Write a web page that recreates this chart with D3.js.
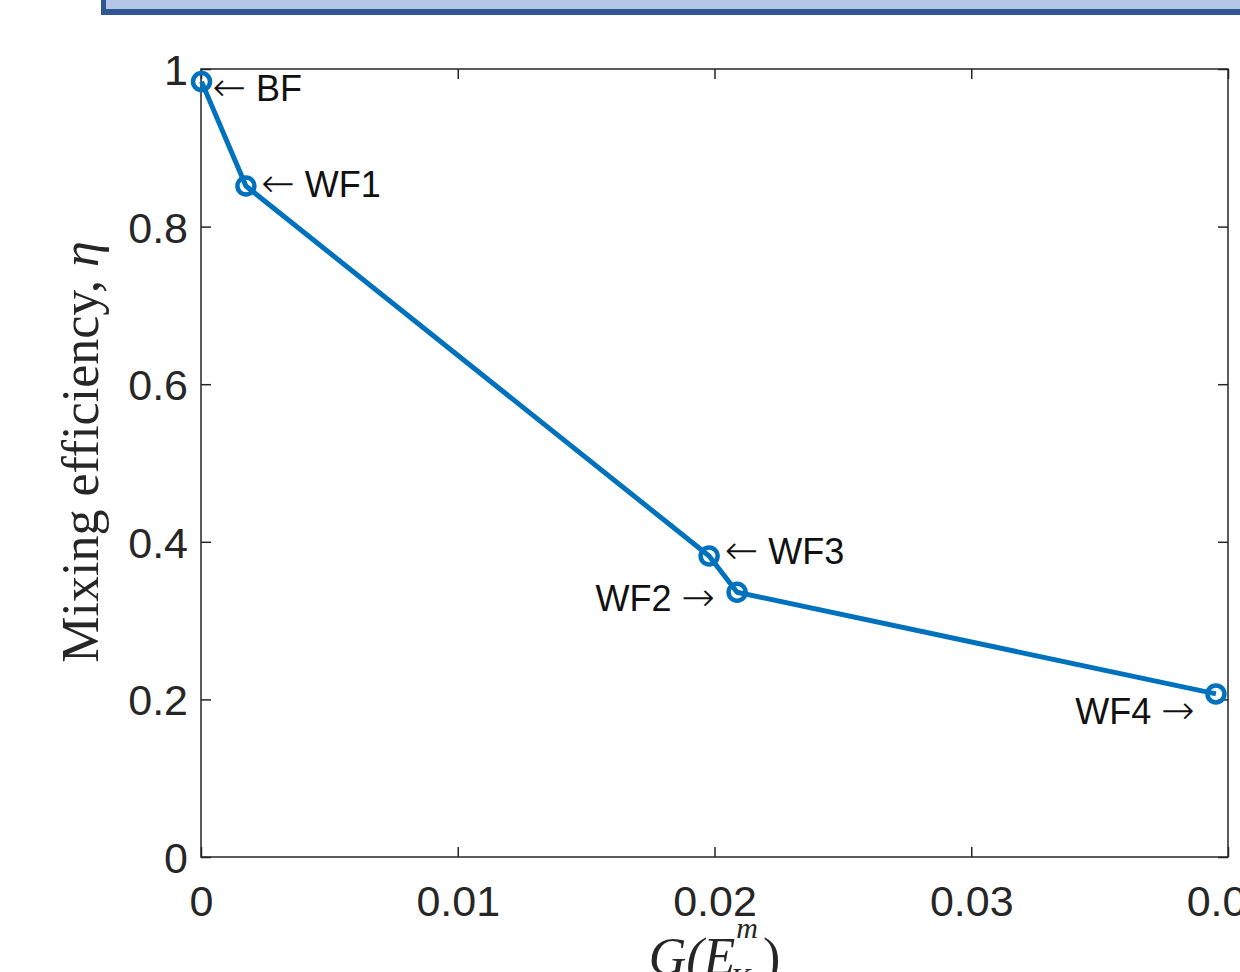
<!DOCTYPE html>
<html>
<head>
<meta charset="utf-8">
<script src="https://cdn.jsdelivr.net/npm/d3@7"></script>
<style>
  body { margin: 0; background: #fff; }
  svg { display: block; }
</style>
</head>
<body>
<svg id="chart"></svg>
<script>
// flow cases, sorted by G(E_K^m)
var cases = ['BF', 'WF1', 'WF3', 'WF2', 'WF4'];
var gValues = [0.00002, 0.00175, 0.01979, 0.02088, 0.03953];
var etaValues = [0.984, 0.8515, 0.382, 0.336, 0.207];

// annotation names, their data coordinates and which side the arrow sits
var labelNames = ['BF', 'WF1', 'WF3', 'WF2', 'WF4'];
var labelG = [0.00045, 0.00235, 0.0204, 0.02002, 0.03871];
var labelEta = [0.976, 0.854, 0.388, 0.329, 0.185];
var labelArrow = ['left', 'left', 'left', 'right', 'right'];

var xTicks = [0, 0.01, 0.02, 0.03, 0.04];
var xTickLabels = ['0', '0.01', '0.02', '0.03', '0.04'];
var yTicks = [0, 0.2, 0.4, 0.6, 0.8, 1];
var yTickLabels = ['0', '0.2', '0.4', '0.6', '0.8', '1'];

var W = 1240, H = 972;
var pLeft = 201, pRight = 1228, pTop = 69, pBottom = 857;
var blue = '#0072BD', axisColor = '#262626';

var svg = d3.select('#chart').attr('width', W).attr('height', H);

// banner strip at the top
svg.append('rect').attr('x', 101).attr('y', 0).attr('width', W - 101).attr('height', 15).attr('fill', '#2f5597');
svg.append('rect').attr('x', 106).attr('y', 0).attr('width', W - 106).attr('height', 9).attr('fill', '#b4c7e7');

var x = d3.scaleLinear().domain([0, 0.04]).range([pLeft, pRight]);
var y = d3.scaleLinear().domain([0, 1]).range([pBottom, pTop]);

// axes: ticks inward on all four sides, like matlab box on
var tickFont = '"Liberation Sans", Arial, Helvetica, sans-serif';
var xb = svg.append('g').attr('transform', 'translate(0,' + pBottom + ')')
    .call(d3.axisBottom(x).tickValues(xTicks).tickSize(-10).tickPadding(28).tickFormat(function(d, i) { return xTickLabels[i]; }));
var xt = svg.append('g').attr('transform', 'translate(0,' + pTop + ')')
    .call(d3.axisTop(x).tickValues(xTicks).tickSize(-10).tickFormat(''));
var yl = svg.append('g').attr('transform', 'translate(' + pLeft + ',0)')
    .call(d3.axisLeft(y).tickValues(yTicks).tickSize(-10).tickPadding(13).tickFormat(function(d, i) { return yTickLabels[i]; }));
var yr = svg.append('g').attr('transform', 'translate(' + pRight + ',0)')
    .call(d3.axisRight(y).tickValues(yTicks).tickSize(-10).tickFormat(''));
[xb, xt, yl, yr].forEach(function(g) {
    g.selectAll('line').attr('stroke', axisColor).attr('stroke-width', 1.5);
    g.select('path.domain').remove();
    g.selectAll('text').attr('fill', axisColor).style('font-family', tickFont).style('font-size', '43px');
});
// the box itself
svg.append('rect').attr('x', pLeft).attr('y', pTop).attr('width', pRight - pLeft).attr('height', pBottom - pTop)
    .attr('fill', 'none').attr('stroke', axisColor).attr('stroke-width', 1.5);
xb.selectAll('text').attr('dy', '0.71em');
yl.selectAll('text').attr('dy', '0.36em');

// line and markers
var pts = cases.map(function(c, i) { return { name: c, g: gValues[i], eta: etaValues[i] }; });
var line = d3.line().x(function(d) { return x(d.g); }).y(function(d) { return y(d.eta); });
svg.append('path').datum(pts).attr('d', line)
    .attr('fill', 'none').attr('stroke', blue).attr('stroke-width', 5).attr('stroke-linejoin', 'round');
svg.selectAll('circle.pt').data(pts).enter().append('circle')
    .attr('class', 'pt')
    .attr('cx', function(d) { return x(d.g); })
    .attr('cy', function(d) { return y(d.eta); })
    .attr('r', 8.5)
    .attr('fill', 'none').attr('stroke', blue).attr('stroke-width', 4.5);

// annotations, arrow glyph taken from DejaVu for a longer shaft
var arrowFont = '"DejaVu Sans", sans-serif';
var ann = svg.selectAll('text.ann').data(labelNames).enter().append('text')
    .attr('class', 'ann')
    .attr('x', function(d, i) { return x(labelG[i]); })
    .attr('y', function(d, i) { return y(labelEta[i]); })
    .attr('dy', '0.36em')
    .attr('text-anchor', function(d, i) { return labelArrow[i] === 'left' ? 'start' : 'end'; })
    .style('font-family', tickFont).style('font-size', '36px').attr('fill', '#111');
ann.each(function(d, i) {
    var t = d3.select(this);
    if (labelArrow[i] === 'left') {
        t.append('tspan').style('font-family', arrowFont).style('font-size', '40px').style('font-weight', 200).text('\u2190');
        t.append('tspan').text('\u00a0' + d);
    } else {
        t.append('tspan').text(d + '\u00a0');
        t.append('tspan').style('font-family', arrowFont).style('font-size', '40px').style('font-weight', 200).text('\u2192');
    }
});

// y label
var serif = '"Liberation Serif", "Times New Roman", serif';
var ylab = svg.append('text')
    .attr('transform', 'translate(98,452) rotate(-90)')
    .attr('text-anchor', 'middle')
    .style('font-family', serif).style('font-size', '52px').attr('fill', axisColor);
ylab.append('tspan').text('Mixing efficiency, ');
ylab.append('tspan').style('font-style', 'italic').text('\u03b7');

// x label G(E_K^m), built from pieces
var xlab = svg.append('g').style('font-family', serif).attr('fill', axisColor);
var base = 974;
var p1 = xlab.append('text').attr('y', base).style('font-size', '52px').style('font-style', 'italic').text('G(E');
var w1 = p1.node().getComputedTextLength();
var sup = xlab.append('text').attr('y', base - 36).style('font-size', '30px').style('font-style', 'italic').text('m');
var sub = xlab.append('text').attr('y', base + 14).style('font-size', '30px').style('font-style', 'italic').text('K');
var ws = Math.max(sup.node().getComputedTextLength(), sub.node().getComputedTextLength());
var p2 = xlab.append('text').attr('y', base).style('font-size', '52px').text(')');
var w2 = p2.node().getComputedTextLength();
var total = w1 + ws + 6 + w2;
var x0 = (pLeft + pRight) / 2 - total / 2;
p1.attr('x', x0);
sup.attr('x', x0 + w1 + 1);
sub.attr('x', x0 + w1 - 5);
p2.attr('x', x0 + w1 + ws + 6);
</script>
</body>
</html>
